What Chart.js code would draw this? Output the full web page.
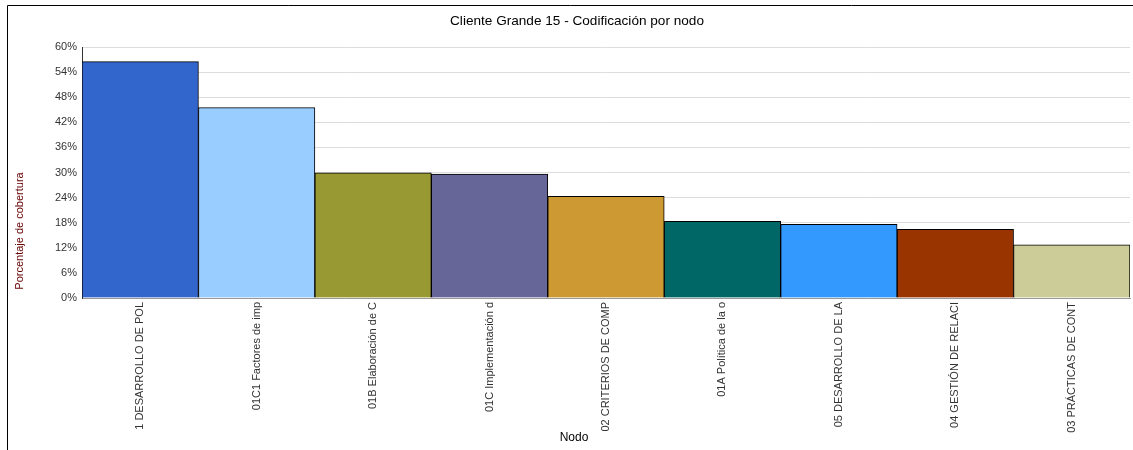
<!DOCTYPE html>
<html>
<head>
<meta charset="utf-8">
<script src="https://cdn.jsdelivr.net/npm/chart.js@4/dist/chart.umd.min.js"></script>
<style>
html,body{margin:0;padding:0;background:#fff;}
#wrap{position:absolute;left:0;top:0;width:1133px;height:450px;}
</style>
</head>
<body>
<div id="wrap"><canvas id="c" width="1133" height="450"></canvas></div>
<script>
const categories = [
  "1 DESARROLLO DE POL",
  "01C1 Factores de imp",
  "01B Elaboración de C",
  "01C Implementación d",
  "02 CRITERIOS DE COMP",
  "01A Política de la o",
  "05 DESARROLLO DE LA",
  "04 GESTIÓN DE RELACI",
  "03 PRÁCTICAS DE CONT"
];
const coverage = [56.5, 45.5, 29.9, 29.6, 24.3, 18.3, 17.6, 16.4, 12.7];
const barColors = ["#3366CC","#99CCFF","#999933","#666699","#CC9933","#006666","#3399FF","#993300","#CCCC99"];
const yTicks = [0, 6, 12, 18, 24, 30, 36, 42, 48, 54, 60];
const chartTitle = 'Cliente Grande 15 - Codificación por nodo';
const xTitle = 'Nodo';
const yTitle = 'Porcentaje de cobertura';

const FONT = "'Liberation Sans', Arial, sans-serif";

const decor = {
  id: 'decor',
  afterDraw(chart) {
    const ctx = chart.ctx;
    ctx.save();
    // frame
    ctx.strokeStyle = '#000';
    ctx.lineWidth = 1;
    ctx.beginPath();
    ctx.moveTo(7.5, 450);
    ctx.lineTo(7.5, 5.5);
    ctx.lineTo(1133, 5.5);
    ctx.stroke();
    ctx.textAlign = 'center';
    ctx.textBaseline = 'middle';
    // chart title
    ctx.fillStyle = '#000';
    ctx.font = '13.6px ' + FONT;
    ctx.fillText(chartTitle, 577, 21.5);
    // x axis title
    ctx.font = '12px ' + FONT;
    ctx.fillText(xTitle, 574, 437.5);
    // y axis title
    ctx.translate(20, 231);
    ctx.rotate(-Math.PI / 2);
    ctx.fillStyle = '#660000';
    ctx.font = '11px ' + FONT;
    ctx.fillText(yTitle, 0, 0);
    ctx.restore();
  }
};

new Chart(document.getElementById('c'), {
  type: 'bar',
  data: {
    labels: categories,
    datasets: [{
      data: coverage,
      backgroundColor: barColors,
      borderColor: '#000',
      borderWidth: 1,
      categoryPercentage: 1.0,
      barPercentage: 1.0
    }]
  },
  options: {
    responsive: false,
    animation: false,
    devicePixelRatio: 1,
    layout: { padding: { left: 0, right: 3, top: 47, bottom: 0 } },
    plugins: {
      legend: { display: false },
      tooltip: { enabled: false },
      title: { display: false }
    },
    scales: {
      x: {
        grid: { display: false, drawTicks: false },
        border: { display: true, color: '#999' },
        ticks: {
          autoSkip: false,
          maxRotation: 90,
          minRotation: 90,
          padding: 4,
          color: '#333',
          font: { family: FONT, size: 11 }
        },
        afterFit(scale) { scale.height = 152; }
      },
      y: {
        min: 0,
        max: 60,
        afterBuildTicks(scale) { scale.ticks = yTicks.map(v => ({ value: v })); },
        grid: { color: '#dddddd', drawTicks: false, lineWidth: 1 },
        border: { display: true, color: '#333' },
        ticks: {
          padding: 5,
          color: '#333',
          font: { family: FONT, size: 11 },
          callback: v => v + '%'
        },
        afterFit(scale) { scale.width = 82; }
      }
    }
  },
  plugins: [decor]
});
</script>
</body>
</html>
